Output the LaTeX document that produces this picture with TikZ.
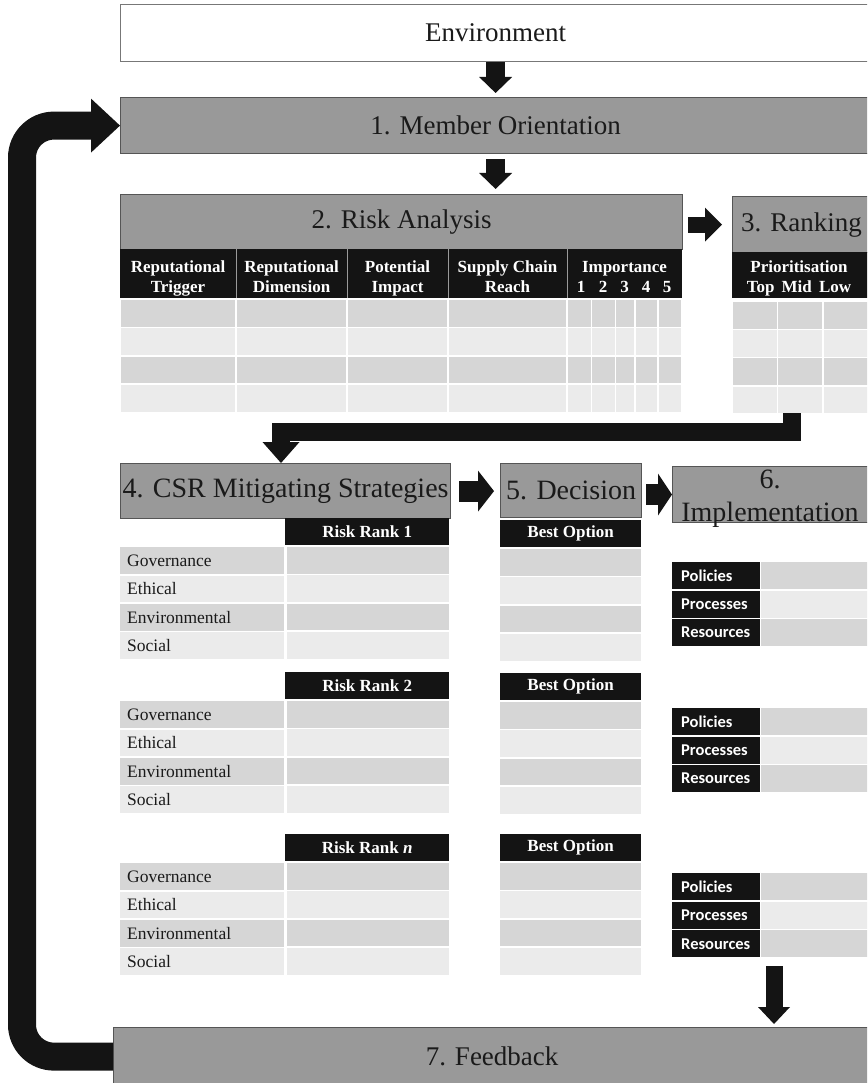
\documentclass[tikz,border=0pt]{standalone}
\usepackage{fontspec}
\setmainfont{Liberation Serif}
\newfontfamily\calfont{Carlito}
\usetikzlibrary{arrows.meta}

\definecolor{tgray}{HTML}{999999}
\definecolor{boxedge}{HTML}{555555}
\definecolor{envedge}{HTML}{777777}
\definecolor{hblack}{HTML}{141414}
\definecolor{rowA}{HTML}{D6D6D6}
\definecolor{rowB}{HTML}{EBEBEB}
\definecolor{ink}{HTML}{1A1A1A}
\definecolor{arrowink}{HTML}{141414}
\definecolor{sepgray}{HTML}{9A9A9A}

\begin{document}
\begin{tikzpicture}[x=1pt,y=-1pt,
  title/.style={draw=boxedge,line width=1.2pt,fill=tgray,text=ink,inner sep=0pt,
    anchor=north west,font=\fontsize{27}{32}\selectfont},
  bigtitle/.style={title,font=\fontsize{28}{33}\selectfont},
  ttltext/.style={text=ink,inner sep=0pt,anchor=base,font=\fontsize{28}{33}\selectfont},
  hdr/.style={fill=hblack,text=white,inner sep=0pt,anchor=north west,
    font=\bfseries\fontsize{17}{20}\selectfont},
  htxt/.style={text=white,inner sep=0pt,anchor=base,font=\bfseries\fontsize{17}{20}\selectfont},
  lbl/.style={inner sep=0pt,inner xsep=7pt,anchor=north west,text width=150pt,align=left,
    minimum height=26.7pt,text=ink,font=\fontsize{17.5}{20}\selectfont},
  implab/.style={fill=hblack,text=white,inner sep=0pt,inner xsep=9pt,anchor=north west,
    text width=70pt,align=left,minimum height=27pt,font=\calfont\bfseries\fontsize{16.5}{19}\selectfont},
  sepline/.style={draw=sepgray,line width=1pt},
  fatarrow/.style n args={3}{draw=arrowink,line width=#1,line cap=butt,line join=miter,
    -{Triangle[length=#2,width=#3,line width=0pt]}}
]
\useasboundingbox (0,0) rectangle (867,1083);
\clip (0,0) rectangle (867,1083);

% ---- stage boxes ----
\node[title,fill=white,draw=envedge,minimum width=750pt,minimum height=57pt] (env) at (120,4) {Environment};
\node[title,minimum width=750pt,minimum height=56pt] (member) at (120,97) {1. Member Orientation};
\node[title,minimum width=562pt,minimum height=55pt] (risk) at (120,194) {2. Risk Analysis};
\node[title,minimum width=138pt,minimum height=56pt] (rank) at (732,196) {3. Ranking};
\node[bigtitle,minimum width=330pt,minimum height=55pt] (csr) at (120,463) {4. CSR Mitigating Strategies};
\node[bigtitle,minimum width=141pt,minimum height=54pt] (dec) at (500,463) {5. Decision};
\node[title,minimum width=196pt,minimum height=56pt] (impl) at (672,466) {};
\node[ttltext] (impla) at (770,488) {6.};
\node[ttltext] (implb) at (770,521) {Implementation};
\node[title,minimum width=757pt,minimum height=58pt] (fb) at (113,1027) {7. Feedback};

% ---- risk analysis table ----
\fill[hblack] (120,249) rectangle (682,298);
\foreach \xx in {236,347,448,567} \draw[sepline] (\xx,249) -- (\xx,298);
\node[htxt] (h1a) at (178,272) {Reputational};
\node[htxt] (h1b) at (178,292) {Trigger};
\node[htxt] (h2a) at (291.5,272) {Reputational};
\node[htxt] (h2b) at (291.5,292) {Dimension};
\node[htxt] (h3a) at (397.5,272) {Potential};
\node[htxt] (h3b) at (397.5,292) {Impact};
\node[htxt] (h4a) at (507.5,272) {Supply Chain};
\node[htxt] (h4b) at (507.5,292) {Reach};
\node[htxt] (h5a) at (624.5,272) {Importance};
\foreach \xx/\dig in {581/1,603/2,624.5/3,646/4,667/5}
  \node[htxt] (imp\dig) at (\xx,292) {\dig};
\foreach \ty/\tc in {300/rowA,328.3/rowB,356.7/rowA,385/rowB}
  \foreach \xa/\xb in {120/236,236/347,347/448,448/567,567/591.5,591.5/615.5,615.5/635,635/658,658/682}
    \fill[\tc] (\xa+0.8,\ty) rectangle (\xb-0.8,\ty+26.7);

% ---- ranking table ----
\fill[hblack] (732,252) rectangle (870,298);
\node[htxt] (rka) at (799,272) {Prioritisation};
\node[htxt] (rkb) at (799,292) {Top\, Mid\, Low};
\foreach \ty/\tc in {302/rowA,330/rowB,358/rowA,386.5/rowB}
  \foreach \xa/\xb in {732/777.5,777.5/823,823/871}
    \fill[\tc] (\xa+0.8,\ty) rectangle (\xb-0.8,\ty+26.5);

% ---- strategy, decision and implementation tables per risk rank ----
\foreach \hy/\dy/\iy/\lab/\gid in {518/520/562/1/a,672/673/708/2/b,834/834/873/\textit{n}/c}{
  \node[hdr,minimum width=164pt,minimum height=27pt] (rr\gid) at (285,\hy) {Risk Rank \lab};
  \node[hdr,minimum width=141pt,minimum height=27pt] (bo\gid) at (500,\dy) {Best Option};
  \foreach \rowi/\rowlab/\rowcol in {0/Governance/rowA,1/Ethical/rowB,2/Environmental/rowA,3/Social/rowB}{
    \node[lbl,fill=\rowcol] (g\gid\rowi) at (120,\hy+29+28.3*\rowi) {\rowlab};
    \fill[\rowcol] (286.5,\hy+29+28.3*\rowi) rectangle (449,\hy+55.7+28.3*\rowi);
    \fill[\rowcol] (500,\dy+29+28.3*\rowi) rectangle (641,\dy+55.7+28.3*\rowi);
  }
  \foreach \rowi/\rowlab/\rowcol in {0/Policies/rowA,1/Processes/rowB,2/Resources/rowA}{
    \node[implab] (p\gid\rowi) at (672,\iy+28.5*\rowi) {\rowlab};
    \fill[\rowcol] (761,\iy+28.5*\rowi) rectangle (871,\iy+27+28.5*\rowi);
  }
}

% ---- flow arrows ----
\draw[fatarrow={19pt}{16pt}{33pt},shorten >=4pt] (env.south) -- (member.north);
\draw[fatarrow={19pt}{16pt}{33pt},shorten <=5pt,shorten >=5pt] (member.south) -- (member.south |- risk.north);
\draw[fatarrow={16pt}{17pt}{34pt},shorten <=5pt,shorten >=10pt] (risk.east |- rank.west) -- (rank.west);
\coordinate (rkbot) at (792,413);
\coordinate (bend) at (281,432);
\draw[fatarrow={18pt}{21pt}{37pt}] (rkbot) |- (bend) -- (bend |- csr.north);
\draw[fatarrow={21pt}{16pt}{41pt},shorten <=8pt,shorten >=6pt] (csr.east) -- (csr.east -| dec.west);
\draw[fatarrow={21pt}{14pt}{42pt},shorten <=4pt] (dec.east |- impl.west) -- (impl.west);
\coordinate (implend) at (774,958);
\draw[fatarrow={17pt}{17pt}{32pt},shorten <=8pt,shorten >=3pt] (implend) -- (implend |- fb.north);
\draw[fatarrow={28pt}{29pt}{54pt},rounded corners=32pt] (fb.west) -- ++(-91,0) |- (member.west);
\end{tikzpicture}
\end{document}
